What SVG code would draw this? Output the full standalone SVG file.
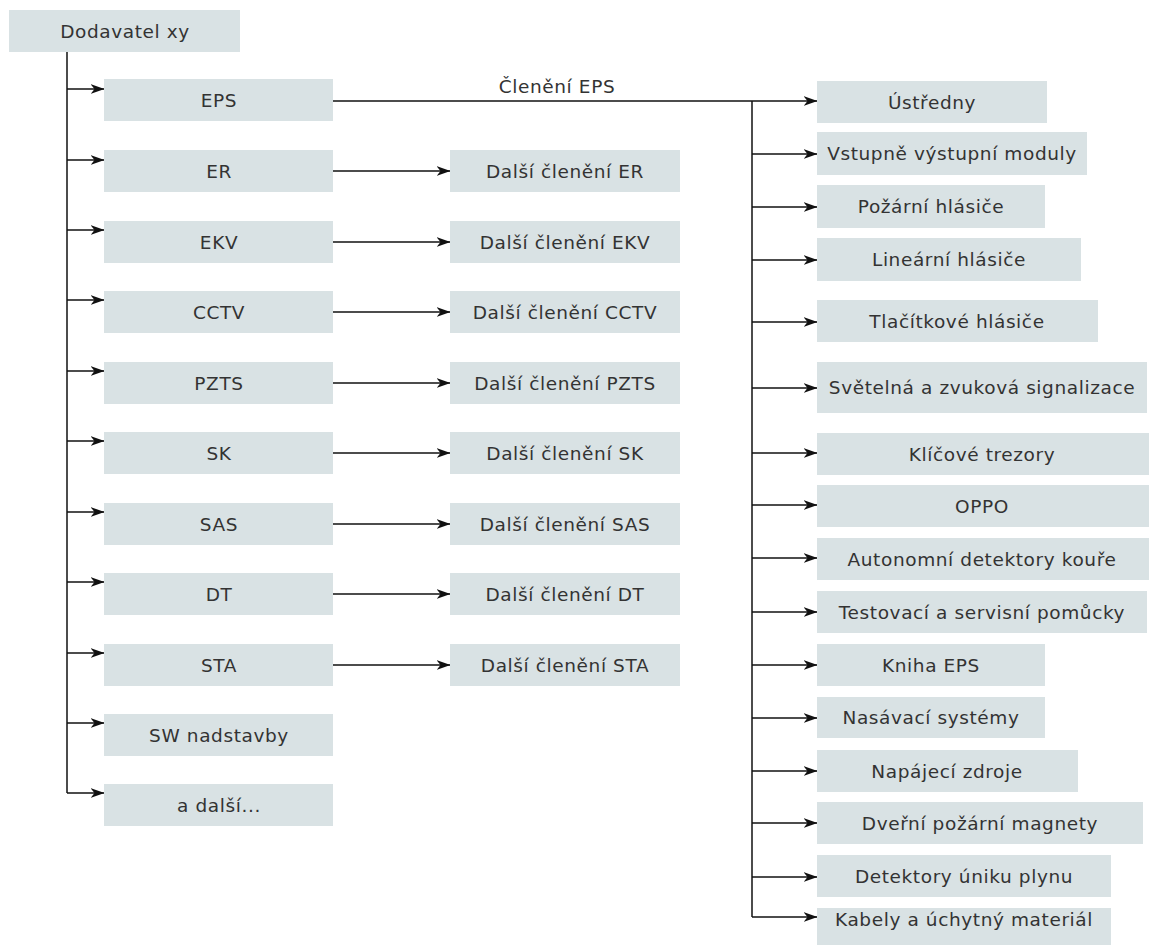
<svg xmlns="http://www.w3.org/2000/svg" width="1149" height="945" viewBox="0 0 1149 945">
  <defs>
    <style>
      .box { fill: #d9e2e4; }
      .lbl { font-family: "DejaVu Sans", "Noto Sans", sans-serif; font-size: 18.5px; letter-spacing: 0.6px; fill: #333333; text-anchor: middle; }
      .wire { fill: none; stroke: #111111; stroke-width: 1.5; }
      .arr { marker-end: url(#head); }
    </style>
    <marker id="head" markerUnits="userSpaceOnUse" markerWidth="14" markerHeight="11" viewBox="0 0 14 11" refX="13.5" refY="5.5" orient="auto">
      <path d="M0,0.5 L14,5.5 L0,10.5 L4,5.5 z" fill="#111111"/>
    </marker>
  </defs>
  <rect width="1149" height="945" fill="#ffffff"/>

  <!-- connectors -->
  <g id="connectors">
    <!-- trunk from the supplier down the left side -->
    <path class="wire" d="M67,52 V793"/>
    <path class="wire arr" d="M67,89 H104"/>
    <path class="wire arr" d="M67,160 H104"/>
    <path class="wire arr" d="M67,230 H104"/>
    <path class="wire arr" d="M67,300 H104"/>
    <path class="wire arr" d="M67,371 H104"/>
    <path class="wire arr" d="M67,441 H104"/>
    <path class="wire arr" d="M67,512 H104"/>
    <path class="wire arr" d="M67,582 H104"/>
    <path class="wire arr" d="M67,653 H104"/>
    <path class="wire arr" d="M67,723 H104"/>
    <path class="wire arr" d="M67,793 H104"/>

    <!-- system to further breakdown -->
    <path class="wire arr" d="M333,171 H450"/>
    <path class="wire arr" d="M333,242 H450"/>
    <path class="wire arr" d="M333,312 H450"/>
    <path class="wire arr" d="M333,383 H450"/>
    <path class="wire arr" d="M333,453 H450"/>
    <path class="wire arr" d="M333,524 H450"/>
    <path class="wire arr" d="M333,594 H450"/>
    <path class="wire arr" d="M333,665 H450"/>

    <!-- EPS breakdown -->
    <path class="wire arr" d="M333,101 H817"/>
    <text class="lbl" x="557" y="93">Členění EPS</text>
    <path class="wire" d="M752,101 V917"/>
    <path class="wire arr" d="M752,154 H817"/>
    <path class="wire arr" d="M752,207 H817"/>
    <path class="wire arr" d="M752,260 H817"/>
    <path class="wire arr" d="M752,322 H817"/>
    <path class="wire arr" d="M752,388 H817"/>
    <path class="wire arr" d="M752,453 H817"/>
    <path class="wire arr" d="M752,505 H817"/>
    <path class="wire arr" d="M752,558 H817"/>
    <path class="wire arr" d="M752,612 H817"/>
    <path class="wire arr" d="M752,665 H817"/>
    <path class="wire arr" d="M752,718 H817"/>
    <path class="wire arr" d="M752,771 H817"/>
    <path class="wire arr" d="M752,823 H817"/>
    <path class="wire arr" d="M752,877 H817"/>
    <path class="wire arr" d="M752,917 H817"/>
  </g>

  <!-- root -->
  <g id="dodavatel"><rect class="box" x="9" y="10" width="231" height="42"/><text class="lbl" x="125" y="38">Dodavatel xy</text></g>

  <!-- systems -->
  <g id="eps"><rect class="box" x="104" y="79" width="229" height="42"/><text class="lbl" x="219" y="107">EPS</text></g>
  <g id="er"><rect class="box" x="104" y="150" width="229" height="42"/><text class="lbl" x="219" y="178">ER</text></g>
  <g id="ekv"><rect class="box" x="104" y="221" width="229" height="42"/><text class="lbl" x="219" y="249">EKV</text></g>
  <g id="cctv"><rect class="box" x="104" y="291" width="229" height="42"/><text class="lbl" x="219" y="319">CCTV</text></g>
  <g id="pzts"><rect class="box" x="104" y="362" width="229" height="42"/><text class="lbl" x="219" y="390">PZTS</text></g>
  <g id="sk"><rect class="box" x="104" y="432" width="229" height="42"/><text class="lbl" x="219" y="460">SK</text></g>
  <g id="sas"><rect class="box" x="104" y="503" width="229" height="42"/><text class="lbl" x="219" y="531">SAS</text></g>
  <g id="dt"><rect class="box" x="104" y="573" width="229" height="42"/><text class="lbl" x="219" y="601">DT</text></g>
  <g id="sta"><rect class="box" x="104" y="644" width="229" height="42"/><text class="lbl" x="219" y="672">STA</text></g>
  <g id="sw"><rect class="box" x="104" y="714" width="229" height="42"/><text class="lbl" x="219" y="742">SW nadstavby</text></g>
  <g id="dalsi"><rect class="box" x="104" y="784" width="229" height="42"/><text class="lbl" x="219" y="812">a další...</text></g>

  <!-- further breakdown -->
  <g id="clen-er"><rect class="box" x="450" y="150" width="230" height="42"/><text class="lbl" x="565" y="178">Další členění ER</text></g>
  <g id="clen-ekv"><rect class="box" x="450" y="221" width="230" height="42"/><text class="lbl" x="565" y="249">Další členění EKV</text></g>
  <g id="clen-cctv"><rect class="box" x="450" y="291" width="230" height="42"/><text class="lbl" x="565" y="319">Další členění CCTV</text></g>
  <g id="clen-pzts"><rect class="box" x="450" y="362" width="230" height="42"/><text class="lbl" x="565" y="390">Další členění PZTS</text></g>
  <g id="clen-sk"><rect class="box" x="450" y="432" width="230" height="42"/><text class="lbl" x="565" y="460">Další členění SK</text></g>
  <g id="clen-sas"><rect class="box" x="450" y="503" width="230" height="42"/><text class="lbl" x="565" y="531">Další členění SAS</text></g>
  <g id="clen-dt"><rect class="box" x="450" y="573" width="230" height="42"/><text class="lbl" x="565" y="601">Další členění DT</text></g>
  <g id="clen-sta"><rect class="box" x="450" y="644" width="230" height="42"/><text class="lbl" x="565" y="672">Další členění STA</text></g>

  <!-- EPS categories -->
  <g id="ustredny"><rect class="box" x="817" y="81" width="230" height="42"/><text class="lbl" x="932" y="109">Ústředny</text></g>
  <g id="vstupne"><rect class="box" x="817" y="132" width="270" height="43"/><text class="lbl" x="952" y="160">Vstupně výstupní moduly</text></g>
  <g id="pozarni"><rect class="box" x="817" y="185" width="228" height="43"/><text class="lbl" x="931" y="213">Požární hlásiče</text></g>
  <g id="linearni"><rect class="box" x="817" y="238" width="264" height="43"/><text class="lbl" x="949" y="266">Lineární hlásiče</text></g>
  <g id="tlacitkove"><rect class="box" x="817" y="300" width="281" height="42"/><text class="lbl" x="957" y="328">Tlačítkové hlásiče</text></g>
  <g id="svetelna"><rect class="box" x="817" y="362" width="330" height="51"/><text class="lbl" x="982" y="394">Světelná a zvuková signalizace</text></g>
  <g id="klicove"><rect class="box" x="817" y="433" width="332" height="42"/><text class="lbl" x="982" y="461">Klíčové trezory</text></g>
  <g id="oppo"><rect class="box" x="817" y="485" width="332" height="42"/><text class="lbl" x="982" y="513">OPPO</text></g>
  <g id="autonomni"><rect class="box" x="817" y="538" width="332" height="42"/><text class="lbl" x="982" y="566">Autonomní detektory kouře</text></g>
  <g id="testovaci"><rect class="box" x="817" y="591" width="330" height="42"/><text class="lbl" x="982" y="619">Testovací a servisní pomůcky</text></g>
  <g id="kniha"><rect class="box" x="817" y="644" width="228" height="42"/><text class="lbl" x="931" y="672">Kniha EPS</text></g>
  <g id="nasavaci"><rect class="box" x="817" y="697" width="228" height="41"/><text class="lbl" x="931" y="724">Nasávací systémy</text></g>
  <g id="napajeci"><rect class="box" x="817" y="750" width="261" height="42"/><text class="lbl" x="947" y="778">Napájecí zdroje</text></g>
  <g id="dverni"><rect class="box" x="817" y="802" width="326" height="42"/><text class="lbl" x="980" y="830">Dveřní požární magnety</text></g>
  <g id="detektory"><rect class="box" x="817" y="855" width="294" height="42"/><text class="lbl" x="964" y="883">Detektory úniku plynu</text></g>
  <g id="kabely"><rect class="box" x="817" y="908" width="294" height="37"/><text class="lbl" x="964" y="926">Kabely a úchytný materiál</text></g>
</svg>
